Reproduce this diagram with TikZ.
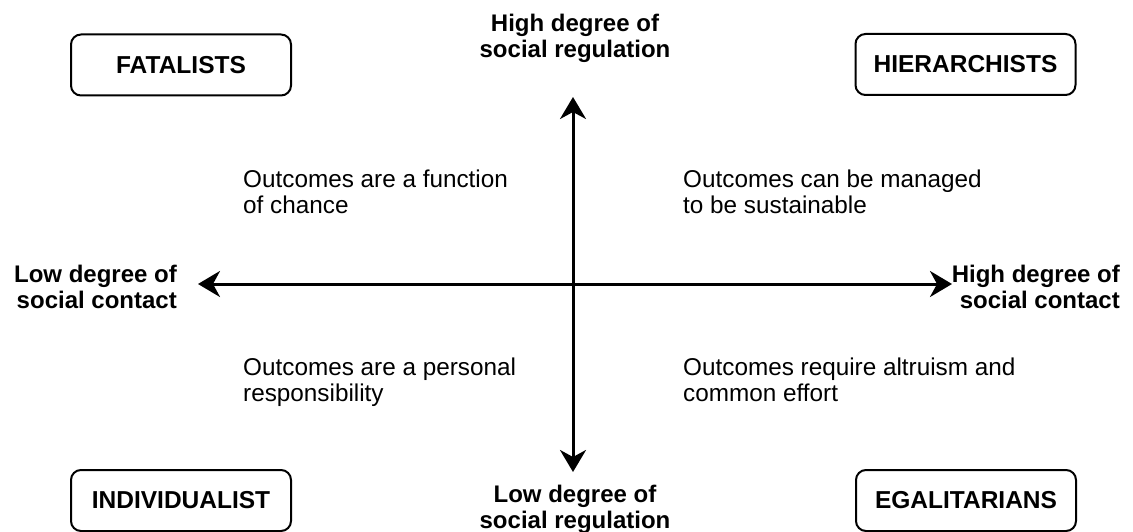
\documentclass[tikz,border=0pt]{standalone}
\usepackage{fontspec}
\setmainfont{Liberation Sans}
\usetikzlibrary{arrows.meta}
\begin{document}
\begin{tikzpicture}[x=1pt,y=-1pt,
  every node/.style={inner sep=0pt, font=\fontsize{24.3}{26}\selectfont},
  group/.style={draw, line width=2pt, rounded corners=10pt, minimum width=220pt, minimum height=61pt, font=\fontsize{24.5}{26}\selectfont\bfseries},
  axislbl/.style={font=\fontsize{24}{26}\selectfont\bfseries},
  outcome/.style={align=left, anchor=base west},
  tip/.tip={Stealth[length=22pt,width=26pt,inset=7pt]},
  axis/.style={line width=3pt, tip-tip}]
\useasboundingbox (0,0) rectangle (1133,532);
% groups
\node[group] (fat) at (181,65) {FATALISTS};
\node[group] (hie) at (965.5,64.5) {HIERARCHISTS};
\node[group] (ind) at (181,500.5) {INDIVIDUALIST};
\node[group] (ega) at (966,500.5) {EGALITARIANS};
% axes
\coordinate (top) at (573,97);
\coordinate (bot) at (573,472);
\coordinate (lft) at (198,284);
\coordinate (rgt) at (952,284);
\draw[axis] (bot) -- (top);
\draw[axis] (lft) -- (rgt);
% axis labels (base anchor = baseline of last line)
\node[axislbl, align=center, anchor=base] (hireg) at (575,58) {High degree of\\social regulation};
\node[axislbl, align=center, anchor=base] (loreg) at (575,528) {Low degree of\\social regulation};
\node[axislbl, align=right, anchor=base east] (locon) at (177,308) {Low degree of\\social contact};
\node[axislbl, align=right, anchor=base east] (hicon) at (1120,308) {High degree of\\social contact};
% outcomes
\node[outcome] (o1) at (243,213) {Outcomes are a function\\of chance};
\node[outcome] (o2) at (683,213) {Outcomes can be managed\\to be sustainable};
\node[outcome] (o3) at (243,401) {Outcomes are a personal\\responsibility};
\node[outcome] (o4) at (683,401) {Outcomes require altruism and\\common effort};
\end{tikzpicture}
\end{document}
